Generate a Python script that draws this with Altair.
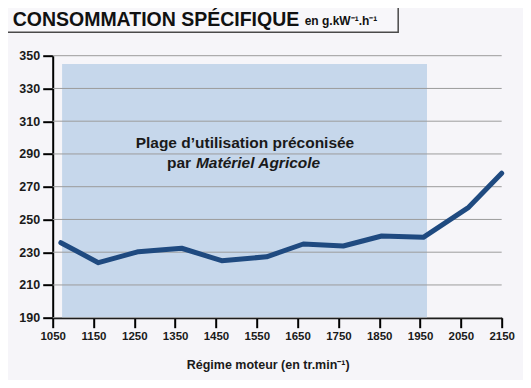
import altair as alt
import pandas as pd

# Data
rpm = [1070, 1162, 1260, 1366, 1464, 1574, 1664, 1762, 1856, 1958, 2069, 2150]
conso = [235.8, 223.6, 230.3, 232.4, 224.8, 227.2, 235.0, 233.8, 239.9, 239.1, 257.4, 278.2]

x_ticks = [1050, 1150, 1250, 1350, 1450, 1550, 1650, 1750, 1850, 1950, 2050, 2150]
y_ticks = [190, 210, 230, 250, 270, 290, 310, 330, 350]

zone_start, zone_end = [1073], [1967]
zone_low, zone_high = [190], [345]

title_main = "CONSOMMATION SPÉCIFIQUE"
title_unit = "en g.kW⁻¹.h⁻¹"
x_title = "Régime moteur (en tr.min⁻¹)"
note_line1 = "Plage d’utilisation préconisée"
note_par = "par"
note_italic = "Matériel Agricole"
note_x = [1521, 1389, 1401]
note_y = [296.9, 284.3, 284.3]

FONT = "Liberation Sans"

df = pd.DataFrame({"rpm": rpm, "conso": conso})
zone = pd.DataFrame({"rpm": zone_start, "x2": zone_end, "conso": zone_low, "y2": zone_high})

xscale = alt.Scale(domain=[1050, 2150], nice=False, zero=False)
yscale = alt.Scale(domain=[190, 350], nice=False, zero=False)

xaxis = alt.Axis(values=x_ticks, format="d", grid=False, tickSize=10, tickWidth=2, tickColor="black",
                 domainColor="black", domainWidth=2, labelFont=FONT, labelFontSize=11.5,
                 labelFontWeight="bold", labelColor="#1a1a1a", labelPadding=3,
                 title=x_title, titleFont=FONT, titleFontSize=12.5, titleFontWeight="bold",
                 titleColor="#1a1a1a", titlePadding=16, titleX=215, labelFlush=False)
yaxis = alt.Axis(values=y_ticks, format="d", grid=False,
                 tickSize=10, tickWidth=2, tickColor="black", domainColor="black",
                 domainWidth=2, labelFont=FONT, labelFontSize=12.5, labelFontWeight="bold",
                 labelColor="#1a1a1a", labelPadding=3, title=None)

X = alt.X("rpm:Q", scale=xscale, axis=xaxis)
Y = alt.Y("conso:Q", scale=yscale, axis=yaxis)

shade = alt.Chart(zone).mark_rect(color="#c6d7eb").encode(x=X, x2="x2:Q", y=Y, y2="y2:Q")

grid_layer = alt.Chart(pd.DataFrame({"conso": y_ticks})).mark_rule(
    color="#9c9c9c", strokeWidth=1).encode(y=Y)

line = alt.Chart(df).mark_line(color="#1f4a80", strokeWidth=5, strokeCap="round",
                               strokeJoin="round").encode(x=X, y=Y)

notes = pd.DataFrame({"t": [note_line1, note_par, note_italic], "rpm": note_x, "conso": note_y,
                      "k": ["a", "b", "c"]})
t1 = alt.Chart(notes[notes.k == "a"]).mark_text(font=FONT, fontSize=15.5, fontWeight="bold",
                                                 color="#1a1a1a", align="center", baseline="middle").encode(
    x=X, y=Y, text="t:N")
t2 = alt.Chart(notes[notes.k == "b"]).mark_text(font=FONT, fontSize=15.5, fontWeight="bold",
                                                 color="#1a1a1a", align="right", baseline="middle").encode(
    x=X, y=Y, text="t:N")
t3 = alt.Chart(notes[notes.k == "c"]).mark_text(font=FONT, fontSize=15.5, fontWeight="bold",
                                                 fontStyle="italic", color="#1a1a1a", align="left",
                                                 baseline="middle").encode(
    x=X, y=Y, text="t:N")

# Title box and title text (decoration)
title_box = alt.Chart(pd.DataFrame({"a": [0]})).mark_rect(
    fill="#f8f7fa", stroke="#4a4a4a", strokeWidth=1.5).encode(
    x=alt.value(-60), x2=alt.value(345.5), y=alt.value(-70), y2=alt.value(-23.5))
title_txt = alt.Chart(pd.DataFrame({"t": [title_main]})).mark_text(
    font=FONT, fontSize=19.5, fontWeight="bold", color="#111111", align="left",
    baseline="alphabetic").encode(x=alt.value(-40), y=alt.value(-30), text="t:N")
unit_txt = alt.Chart(pd.DataFrame({"t": [title_unit]})).mark_text(
    font=FONT, fontSize=12, fontWeight="bold", color="#111111", align="left",
    baseline="alphabetic").encode(x=alt.value(252), y=alt.value(-31), text="t:N")

chart = alt.layer(shade, grid_layer, line, t1, t2, t3, title_box, title_txt, unit_txt).properties(
    width=449, height=262,
    autosize=alt.AutoSizeParams(type="none"),
    padding={"left": 44.7, "top": 47.7, "right": 21, "bottom": 62},
).configure(background="#f6f5f9").configure_view(stroke=None)

chart.save("out.html", embed_options={"renderer": "svg", "actions": False})
